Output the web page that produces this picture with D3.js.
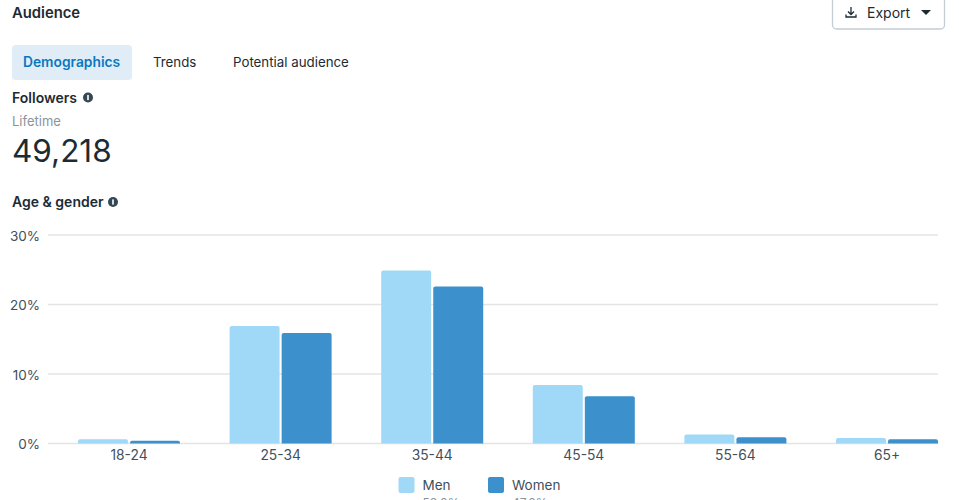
<!DOCTYPE html>
<html>
<head>
<meta charset="utf-8">
<script src="https://cdn.jsdelivr.net/npm/d3@7"></script>
<style>
  html, body { margin: 0; padding: 0; background: #fff; overflow: hidden; }
  text { font-family: Inter, "Noto Sans", sans-serif; }
</style>
</head>
<body>
<div id="wrapper"></div>
<script>
const ageGroups = ["18-24", "25-34", "35-44", "45-54", "55-64", "65+"];
const menValues = [0.6, 16.9, 24.9, 8.4, 1.3, 0.8];
const womenValues = [0.4, 15.9, 22.6, 6.8, 0.9, 0.6];
const seriesNames = ["Men", "Women"];
const seriesShares = ["53.0%", "47.0%"];
const seriesColors = ["#a0d9f8", "#3c91cd"];
const yTicks = [0, 10, 20, 30];
const tabNames = ["Demographics", "Trends", "Potential audience"];

const ink = "#1c2b33";
const labelInk = "#3f4f5b";

const svg = d3.select("#wrapper").append("svg")
    .attr("width", 959)
    .attr("height", 500)
    .style("display", "block");

function label(x, y, str, size, weight, fill) {
    return svg.append("text")
        .attr("x", x).attr("y", y)
        .attr("font-size", size)
        .attr("font-weight", weight)
        .attr("fill", fill)
        .text(str);
}

function infoIcon(cx, cy) {
    svg.append("circle").attr("cx", cx).attr("cy", cy).attr("r", 5).attr("fill", "#344854");
    svg.append("rect").attr("x", cx - 0.8).attr("y", cy - 2.6).attr("width", 1.6).attr("height", 5.2).attr("fill", "#fff");
}

// Header
label(12, 18, "Audience", 14.8, 600, ink);

// Export button, top edge runs off the page
svg.append("rect")
    .attr("x", 832.5).attr("y", -10).attr("width", 112).attr("height", 39).attr("rx", 4)
    .attr("fill", "#fff").attr("stroke", "#c4ccd4").attr("stroke-width", 1.3);
svg.append("path")
    .attr("d", "M851 7v7M848 11.5l3 3 3-3M846 14.5v2.5h10v-2.5")
    .attr("fill", "none").attr("stroke", ink).attr("stroke-width", 1.3);
label(867, 18, "Export", 14, 400, ink);
svg.append("path").attr("d", "M921 10h10l-5 5z").attr("fill", ink);

// Tabs
svg.append("rect")
    .attr("x", 12).attr("y", 45).attr("width", 120).attr("height", 35).attr("rx", 4)
    .attr("fill", "#e0edf7");
label(23, 67, tabNames[0], 13.8, 600, "#0a78be");
label(153, 67, tabNames[1], 13.3, 400, ink);
label(233, 67, tabNames[2], 13.3, 400, ink);

// Followers block
label(12, 102.5, "Followers", 14, 600, ink);
infoIcon(88, 97.5);
label(12, 125.5, "Lifetime", 13, 400, "#8a949c");
label(12, 162, "49,218", 31.5, 400, ink);

label(12, 207, "Age & gender", 14, 600, ink);
infoIcon(113, 202);

// Chart
const yScale = d3.scaleLinear()
    .domain([0, 30])
    .range([443.5, 235]);

const xScale = d3.scaleBand()
    .domain(ageGroups)
    .range([78, 938])
    .paddingInner(0.327)
    .paddingOuter(0);

const barScale = d3.scaleBand()
    .domain(seriesNames)
    .range([0, xScale.bandwidth()])
    .paddingInner(0.04);

const yAxis = svg.append("g")
    .attr("transform", "translate(48,0.7)")
    .call(d3.axisLeft(yScale).tickValues(yTicks).tickFormat(d => d + "%").tickSize(0).tickPadding(8));
yAxis.select(".domain").remove();
yAxis.selectAll("text")
    .attr("font-family", null)
    .attr("font-size", 13.5)
    .attr("fill", labelInk);

svg.append("g").selectAll("line")
    .data(yTicks)
    .join("line")
    .attr("x1", 48).attr("x2", 938)
    .attr("y1", d => yScale(d)).attr("y2", d => yScale(d))
    .attr("stroke", "#e2e4e6")
    .attr("stroke-width", 1.5);

const barPath = (x, y, w, h) => {
    const r = Math.min(2, h);
    return `M${x},${y + h}V${y + r}Q${x},${y} ${x + r},${y}H${x + w - r}Q${x + w},${y} ${x + w},${y + r}V${y + h}Z`;
};

[menValues, womenValues].forEach((values, s) => {
    svg.append("g").selectAll("path")
        .data(values)
        .join("path")
        .attr("fill", seriesColors[s])
        .attr("d", (d, i) => barPath(
            xScale(ageGroups[i]) + barScale(seriesNames[s]),
            yScale(d),
            barScale.bandwidth(),
            yScale(0) - yScale(d)));
});

const xAxis = svg.append("g")
    .attr("transform", "translate(0,443.5)")
    .call(d3.axisBottom(xScale).tickSize(0).tickPadding(7));
xAxis.select(".domain").remove();
xAxis.selectAll("text")
    .attr("font-family", null)
    .attr("font-size", 13.8)
    .attr("fill", labelInk);

// Legend, the share line is clipped by the bottom of the page
const legendX = [398.5, 488];
seriesNames.forEach((name, s) => {
    svg.append("rect")
        .attr("x", legendX[s]).attr("y", 477).attr("width", 16).attr("height", 16).attr("rx", 2)
        .attr("fill", seriesColors[s]);
    label(legendX[s] + 24, 490, name, 13.5, 400, labelInk);
    label(legendX[s] + 24, 507, seriesShares[s], 12, 400, "#8a949c");
});
</script>
</body>
</html>
